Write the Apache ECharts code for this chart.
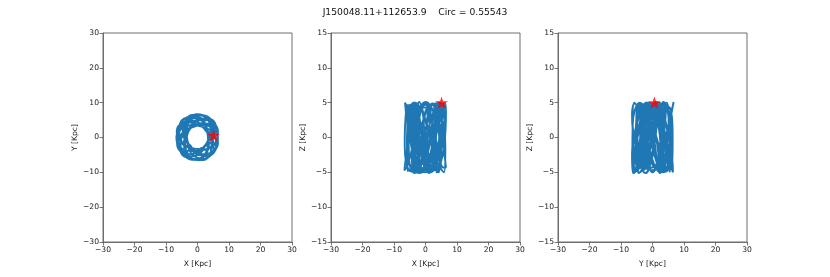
<!DOCTYPE html>
<html>
<head>
<meta charset="utf-8">
<script src="https://cdn.jsdelivr.net/npm/echarts@6/dist/echarts.min.js"></script>
<style>
html,body{margin:0;padding:0;background:#fff;}
#chart{width:830px;height:277px;}
</style>
</head>
<body>
<div id="chart"></div>
<script>
// Orbit samples (kpc), estimated from the reference projections
const orbitX = [5.1,5.2,3.3,0,-2.9,-3.9,-3.5,-2.9,-2.0,0,3.1,5.8,6.4,4.7,2.1,0,-1.7,-3.7,-5.5,-5.5,-3.4,0,2.6,3.4,3.3,3.1,2.4,0,-3.3,-5.7,-5.8,-4.0,-1.8,0,2.0,4.5,6.3,5.9,3.2,0,-2.0,-2.9,-3.5,-3.9,-2.9,0,3.3,5.1,4.8,3.2,1.7,0,-2.5,-5.3,-6.7,-5.5,-2.8,0,1.7,2.9,4.2,4.7,3.2,0,-3.1,-4.3,-3.8,-2.9,-1.9,0,3.0,5.7,6.5,4.9,2.3,0,-1.7,-3.5,-5.2,-5.4,-3.4,0,2.7,3.6,3.4,3.0,2.2,0,-3.3,-5.7,-5.9,-4.1,-1.8,0,2.0,4.4,
  6.0,6.5,4.5,1.4,-1.1,-2.4,-3.4,-4.3,-4.0,-1.7,1.7,4.2,4.5,3.5,2.3,1.0,-1.3,-4.4,-6.6,-6.1,-3.7,-1.0,0.9,2.5,4.4,5.6,4.7,1.7,-1.5,-3.2,-3.4,-3.2,-2.9,-1.4,1.6,4.7,6.0,4.8,2.8,0.9,-1.0,-3.4,-5.8,-6.5,-4.6,-1.5,1.1,2.4,3.3,4.2,3.9,1.7,-1.7,-4.2,-4.7,-3.7,-2.3,-1.0,1.3,4.3,6.5,6.2,3.8,1.1,-0.9,-2.5,-4.3,-5.4,-4.6,-1.7,1.5,3.3,3.5,3.2,2.8,1.3,-1.6,-4.8,-6.0,-4.9,-2.8,-0.9,0.9,3.3,5.7,6.4,4.6,1.5,-1.2,-2.5,-3.2,-4.0,-3.7,-1.7,1.7,4.3];
const orbitY = [0,3.0,5.7,6.5,4.9,2.3,0,-1.7,-3.4,-5.0,-5.3,-3.4,0,2.7,3.6,3.4,2.9,2.2,0,-3.2,-5.8,-6.2,-4.4,-2.0,0,1.8,4.1,5.9,5.7,3.3,0,-2.3,-3.1,-3.3,-3.5,-2.6,0,3.4,5.5,5.2,3.5,1.7,0,-2.3,-4.9,-6.5,-5.7,-3.0,0,1.9,2.9,3.8,4.3,3.1,0,-3.2,-4.8,-4.3,-2.9,-1.7,0,2.7,5.5,6.7,5.3,2.5,0,-1.7,-3.2,-4.9,-5.2,-3.3,0,2.9,3.9,3.5,2.9,2.0,0,-3.1,-5.8,-6.3,-4.6,-2.1,0,1.8,3.8,5.6,5.6,3.3,0,-2.4,-3.1,-3.3,-3.4,-2.6,
  -1.6,1.7,4.5,5.1,4.0,2.4,0.9,-1.2,-4.0,-6.3,-6.4,-4.2,-1.2,0.9,2.3,3.8,4.9,4.4,1.8,-1.6,-3.7,-3.9,-3.2,-2.5,-1.2,1.5,4.7,6.4,5.6,3.2,0.9,-0.9,-2.9,-5.1,-6.1,-4.7,-1.6,1.3,2.8,3.2,3.6,3.4,1.6,-1.7,-4.6,-5.4,-4.3,-2.4,-0.9,1.1,3.9,6.2,6.5,4.2,1.3,-1.0,-2.3,-3.7,-4.8,-4.3,-1.7,1.7,3.8,4.1,3.3,2.5,1.1,-1.5,-4.6,-6.4,-5.7,-3.3,-0.9,0.9,2.8,5.0,6.1,4.8,1.6,-1.3,-2.8,-3.2,-3.5,-3.3,-1.5,1.7,4.6,5.5,4.4,2.5,0.9,-1.1,-3.7,-6.2,-6.5,-4.3];
const orbitZ = [5.0,2.3,-2.9,-5.0,-1.6,3.6,4.8,0.8,-4.1,-4.5,0,4.5,4.1,-0.8,-4.8,-3.6,1.6,5.0,3.0,-2.3,-5.1,-2.3,3.0,5.0,1.6,-3.6,-4.8,-0.8,4.1,4.5,0,-4.5,-4.1,0.8,4.8,3.6,-1.6,-5.0,-3.0,2.3,5.1,2.5,-2.7,-5.1,-1.8,3.4,4.9,1.0,-3.9,-4.7,-0.3,4.3,4.3,-0.5,-4.7,-3.8,1.3,4.9,3.3,-2.0,-5.0,-2.6,2.7,5.1,1.9,-3.3,-4.9,-1.1,3.9,4.7,0.3,-4.3,-4.3,0.5,4.7,3.8,-1.3,-4.9,-3.2,2.0,5.0,2.6,-2.6,-5.1,-1.9,3.2,4.9,1.2,-3.8,-4.8,-0.5,4.2,4.4,-0.3,-4.6,-4.0,
  -0.9,3.6,5.0,2.0,-2.8,-5.1,-2.2,2.9,5.0,1.7,-3.2,-5.0,-1.5,3.4,4.9,1.0,-3.7,-4.9,-0.8,4.0,4.8,0.4,-4.2,-4.6,0,4.4,4.5,-0.4,-4.6,-4.3,0.7,4.7,4.2,-1.1,-4.8,-3.9,1.5,4.9,3.6,-1.9,-5.0,-3.3,2.2,5.0,3.0,-2.5,-5.1,-2.7,2.6,5.1,2.4,-2.9,-5.0,-2.0,3.1,5.0,1.8,-3.3,-5.0,-1.4,3.6,4.9,1.1,-3.8,-4.8,-0.7,4.0,4.7,0.3,-4.2,-4.6,0.1,4.4,4.4,-0.5,-4.6,-4.2,0.9,4.7,3.9,-1.3,-4.8,-3.6,1.7,4.9,3.3,-2.1,-5.0,-3.0,2.4,5.0,2.7,-2.7,-5.1,-2.4,2.9];
// Current position (star marker): x, y, z
const starPos = [5.1, 0.6, 5.0];
const titleText = 'J150048.11+112653.9    Circ = 0.55543';
const axisNames = [['X [Kpc]','Y [Kpc]'],['X [Kpc]','Z [Kpc]'],['Y [Kpc]','Z [Kpc]']];
const xTicks = [-30,-20,-10,0,10,20,30];
const yTicksXY = [-30,-20,-10,0,10,20,30];
const yTicksZ = [-15,-10,-5,0,5,10,15];

const coords = [orbitX, orbitY, orbitZ];
const pairs = [[0,1],[0,2],[1,2]];
const gridLefts = [103, 331, 558];
const FONT = 'DejaVu Sans';
const starPath = 'path://M50,0 L61.2,34.5 L97.6,34.5 L68.2,55.9 L79.4,90.5 L50,69.1 L20.6,90.5 L31.8,55.9 L2.4,34.5 L38.8,34.5 Z';
const fmt = v => String(v).replace('-', '\u2212');
const nPts = Math.min(orbitX.length, orbitY.length, orbitZ.length);

const grids = [], xAxes = [], yAxes = [], series = [];
pairs.forEach((p, i) => {
  grids.push({left: gridLefts[i], top: 33, width: 189, height: 209, show: true,
    borderColor: '#6e6e6e', borderWidth: 1, backgroundColor: 'transparent'});
  const yt = i === 0 ? yTicksXY : yTicksZ;
  const common = {
    type: 'value', nameLocation: 'middle',
    nameTextStyle: {fontFamily: FONT, fontSize: 7.6, color: '#1a1a1a'},
    axisLine: {show: true, onZero: false, lineStyle: {color: '#6e6e6e', width: 1}},
    axisTick: {show: true, inside: false, length: 3.5, lineStyle: {color: '#555', width: 0.8}},
    axisLabel: {fontFamily: FONT, fontSize: 7.6, color: '#1a1a1a', formatter: fmt, margin: 4},
    splitLine: {show: false}
  };
  xAxes.push(Object.assign({}, common, {gridIndex: i, name: axisNames[i][0], nameGap: 18,
    min: xTicks[0], max: xTicks[xTicks.length-1], interval: xTicks[1]-xTicks[0]}));
  yAxes.push(Object.assign({}, common, {gridIndex: i, name: axisNames[i][1], nameGap: 20,
    min: yt[0], max: yt[yt.length-1], interval: yt[1]-yt[0]}));
  const a = coords[p[0]], b = coords[p[1]];
  const data = [];
  for (let k = 0; k < nPts; k++) data.push([a[k], b[k]]);
  series.push({type: 'line', xAxisIndex: i, yAxisIndex: i, data: data,
    showSymbol: false, smooth: 0.45, lineStyle: {color: '#1f77b4', width: 1.9}, silent: true, z: 2});
  series.push({type: 'scatter', xAxisIndex: i, yAxisIndex: i, data: [[starPos[p[0]], starPos[p[1]]]],
    symbol: starPath, symbolSize: 13, symbolKeepAspect: true, itemStyle: {color: '#ff0000'}, z: 3});
});

const chart = echarts.init(document.getElementById('chart'), null, {renderer: 'canvas'});
chart.setOption({
  animation: false,
  backgroundColor: '#ffffff',
  title: {text: titleText, left: 'center', top: 3,
    textStyle: {fontFamily: FONT, fontSize: 9.2, fontWeight: 'normal', color: '#111'}},
  grid: grids, xAxis: xAxes, yAxis: yAxes, series: series
});
</script>
</body>
</html>
